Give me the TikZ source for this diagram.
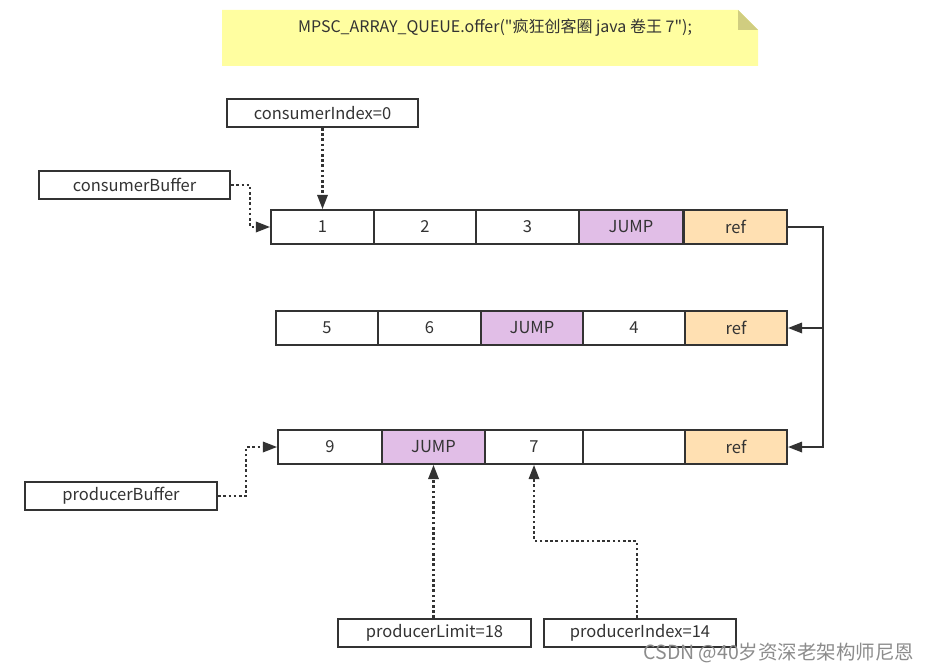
\documentclass[tikz,border=0pt]{standalone}
\usepackage{fontspec}
\setmainfont{Noto Sans CJK SC}
% a family without the TeX quote mapping, so " stays straight
\newfontfamily\codefont{Noto Sans CJK SC}
\usetikzlibrary{arrows.meta}
\definecolor{ink}{HTML}{333333}
\definecolor{notefill}{HTML}{FFFEA0}
\definecolor{notefold}{HTML}{D0CD80}
\definecolor{jumpfill}{HTML}{E1BEE7}
\definecolor{reffill}{HTML}{FFE0B2}
\tikzset{
  cell/.style={draw=ink, line width=2.2pt, fill=white, minimum height=34pt, inner sep=0pt, text=ink, font=\fontsize{16.5}{19}\selectfont},
  label box/.style={draw=ink, line width=2.2pt, fill=white, minimum height=28pt, inner sep=0pt, text=ink, font=\fontsize{16.5}{19}\selectfont},
  jump/.style={fill=jumpfill},
  refcell/.style={fill=reffill},
  pointer/.style={draw=ink, line width=2.6pt, dash pattern=on 2.6pt off 2.6pt, -{Triangle[length=14pt,width=11pt,line width=0pt]}},
  link/.style={draw=ink, line width=2.2pt, -{Triangle[length=14pt,width=11pt,line width=0pt]}},
}
\begin{document}
\begin{tikzpicture}[x=1pt, y=-1pt]
\useasboundingbox (0,0) rectangle (934,671);

% note with folded corner
\fill[notefill] (222,10) -- (738,10) -- (758,30) -- (758,66) -- (222,66) -- cycle;
\fill[notefold] (738,10) -- (758,30) -- (738,30) -- cycle;
\node[text=ink, font=\codefont\fontsize{16}{19}\selectfont] (title) at (495,28) {MPSC\_ARRAY\_QUEUE.offer("疯狂创客圈 java 卷王 7");};

% row 1
\node[cell, minimum width=103pt] (a1) at (322.5,227) {1};
\node[cell, minimum width=102pt] (a2) at (425,227) {2};
\node[cell, minimum width=103pt] (a3) at (527.5,227) {3};
\node[cell, jump, minimum width=104pt] (a4) at (631,227) {JUMP};
\node[cell, refcell, minimum width=103pt] (a5) at (735.5,227) {ref};

% row 2
\node[cell, minimum width=102pt] (b1) at (327,328) {5};
\node[cell, minimum width=103pt] (b2) at (429.5,328) {6};
\node[cell, jump, minimum width=102pt] (b3) at (532,328) {JUMP};
\node[cell, minimum width=102pt] (b4) at (634,328) {4};
\node[cell, refcell, minimum width=102pt] (b5) at (736,328) {ref};

% row 3
\node[cell, minimum width=104pt] (c1) at (330,447) {9};
\node[cell, jump, minimum width=103pt] (c2) at (433.5,447) {JUMP};
\node[cell, minimum width=98pt] (c3) at (534,447) {7};
\node[cell, minimum width=102pt] (c4) at (634,447) {};
\node[cell, refcell, minimum width=102pt] (c5) at (736,447) {ref};

% pointer labels
\node[label box, minimum width=191pt] (ci) at (322.5,113) {consumerIndex=0};
\node[label box, minimum width=191pt] (cb) at (134.5,185) {consumerBuffer};
\node[label box, minimum width=192pt] (pb) at (121,496) {producerBuffer};
\node[label box, minimum width=193pt] (pl) at (434.5,633) {producerLimit=18};
\node[label box, minimum width=192pt] (pi) at (640,633) {producerIndex=14};

% dotted pointers
\draw[pointer] (ci.south) -- (a1.north);
\draw[pointer] (cb.east) -- (250,185) |- (a1.west);
\draw[pointer] (pb.east) -- (246,496) |- (c1.west);
\draw[pointer] (pl.north -| c2) -- (c2.south);
\coordinate (bend) at (637,541);
\draw[pointer] (bend |- pi.north) -- (bend) -| (c3.south);

% ref links between arrays
\coordinate (rail) at (823,328);
\draw[link] (a5.east) -| (rail) -- (b5.east);
\draw[link] (rail) |- (c5.east);

% watermark
\node[text=black!45, font=\fontsize{19.5}{22}\selectfont, anchor=east] (wm) at (918,653) {CSDN @40岁资深老架构师尼恩};
\end{tikzpicture}
\end{document}
